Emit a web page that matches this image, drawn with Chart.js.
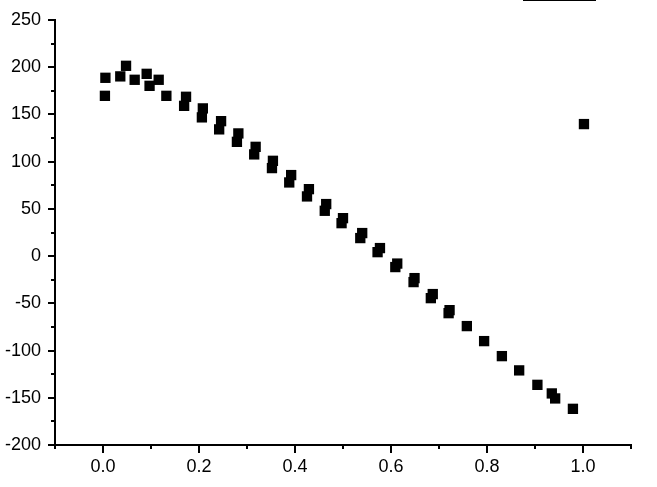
<!DOCTYPE html>
<html>
<head>
<meta charset="utf-8">
<script src="https://cdn.jsdelivr.net/npm/chart.js@4"></script>
<style>
  html, body { margin: 0; padding: 0; background: #fff; }
  #wrap { width: 657px; height: 487px; }
</style>
</head>
<body>
<div id="wrap"><canvas id="myChart" width="657" height="487"></canvas></div>
<script>
// values
const xValues = [0.004, 0.005, 0.036, 0.048, 0.066, 0.091, 0.097, 0.116, 0.132, 0.169,
  0.173, 0.206, 0.208, 0.242, 0.246, 0.279, 0.282, 0.315, 0.318, 0.352,
  0.354, 0.388, 0.392, 0.425, 0.429, 0.462, 0.465, 0.497, 0.500, 0.536,
  0.540, 0.572, 0.577, 0.609, 0.613, 0.647, 0.649, 0.683, 0.687, 0.720,
  0.722, 0.758, 0.794, 0.831, 0.867, 0.905, 0.935, 0.942, 0.979, 1.002];
const yValues = [169.7, 188.8, 190.3, 201.5, 186.7, 193, 180.3, 186.7, 169.7, 159.1,
  168.7, 146.9, 156.4, 134.2, 142.9, 121, 129.9, 107.7, 115.7, 93.2,
  100.9, 78, 85.8, 63.2, 70.9, 48, 55.1, 34.9, 40.2, 19.1,
  24.4, 4.2, 8.5, -11.6, -7.9, -27.5, -23.3, -44.5, -40.2, -60.4,
  -57.2, -74.1, -90, -105.9, -121, -136.3, -145.4, -150.7, -161.7, 139.8];

const xTicks = [0.0, 0.2, 0.4, 0.6, 0.8, 1.0];
const xMinorTicks = [-0.1, 0.1, 0.3, 0.5, 0.7, 0.9, 1.1];
const yTicks = [-200, -150, -100, -50, 0, 50, 100, 150, 200, 250];
const yMinorTicks = [-175, -125, -75, -25, 25, 75, 125, 175, 225];

const points = xValues.map((x, i) => ({ x: x, y: yValues[i] }));

// short minor ticks, Chart.js has none of its own
const minorTicks = {
  id: 'minorTicks',
  afterDraw(chart) {
    const ctx = chart.ctx;
    const xs = chart.scales.x, ys = chart.scales.y;
    ctx.save();
    ctx.strokeStyle = '#000';
    ctx.lineWidth = 2;
    ctx.beginPath();
    xMinorTicks.forEach(v => {
      const px = Math.round(xs.getPixelForValue(v));
      ctx.moveTo(px, xs.top);
      ctx.lineTo(px, xs.top + 4);
    });
    yMinorTicks.forEach(v => {
      const py = Math.round(ys.getPixelForValue(v));
      ctx.moveTo(ys.right, py);
      ctx.lineTo(ys.right - 4, py);
    });
    ctx.stroke();
    // bit of the legend frame cut off at the top edge
    ctx.beginPath();
    ctx.moveTo(523, 0);
    ctx.lineTo(596, 0);
    ctx.stroke();
    ctx.restore();
  }
};

const font = { family: 'Liberation Sans, Arial, sans-serif', size: 18 };

new Chart(document.getElementById('myChart'), {
  type: 'scatter',
  data: {
    datasets: [{
      data: points,
      pointStyle: 'rect',
      pointRadius: 7.3,
      pointBorderWidth: 0,
      backgroundColor: '#000',
      borderColor: '#000'
    }]
  },
  options: {
    responsive: false,
    animation: false,
    layout: { padding: { top: 20, right: 26, left: 0, bottom: 0 } },
    plugins: { legend: { display: false }, tooltip: { enabled: false } },
    scales: {
      x: {
        type: 'linear',
        min: -0.1,
        max: 1.1,
        afterBuildTicks: s => { s.ticks = xTicks.map(v => ({ value: v })); },
        afterFit: s => { s.height = 42; },
        border: { display: true, color: '#000', width: 2 },
        grid: { drawOnChartArea: false, drawTicks: true, tickLength: 8, color: '#000', lineWidth: 2 },
        ticks: { color: '#000', font: font, padding: 3, callback: v => Number(v).toFixed(1) }
      },
      y: {
        type: 'linear',
        min: -200,
        max: 250,
        afterBuildTicks: s => { s.ticks = yTicks.map(v => ({ value: v })); },
        afterFit: s => { s.width = 55; },
        border: { display: true, color: '#000', width: 2 },
        grid: { drawOnChartArea: false, drawTicks: true, tickLength: 7, color: '#000', lineWidth: 2 },
        ticks: { color: '#000', font: font, padding: 7, callback: v => String(v) }
      }
    }
  },
  plugins: [minorTicks]
});
</script>
</body>
</html>
